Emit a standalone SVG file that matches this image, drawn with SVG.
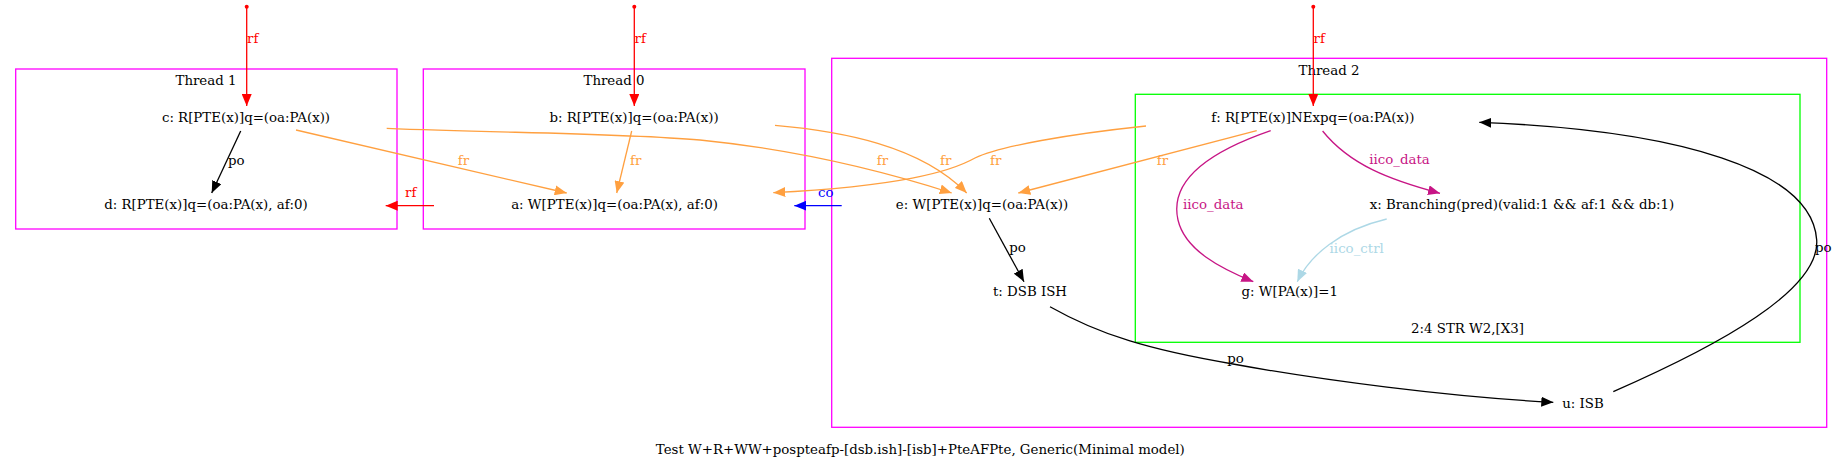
<svg xmlns="http://www.w3.org/2000/svg" width="1843" height="469" viewBox="0 0 1843 469">
<style>
text{font-family:"DejaVu Serif","Liberation Serif",serif;font-size:13.35px;fill:#000}
.n{text-anchor:middle}
.cl{fill:none;stroke:#ff00ff;stroke-width:1.3}
.gr{fill:none;stroke:#00ff00;stroke-width:1.3}
.e{fill:none;stroke-width:1.3}
.rf{stroke:#ff0000}.trf{fill:#ff0000}
.fr{stroke:#ffa040}.tfr{fill:#ffa040}
.po{stroke:#000}
.co{stroke:#0000ff}.tco{fill:#0000ff}
.id{stroke:#c71585}.tid{fill:#c71585}
.ic{stroke:#add8e6}.tic{fill:#add8e6}
</style>
<defs>
<marker id="mrf" markerUnits="userSpaceOnUse" markerWidth="13" markerHeight="10" refX="12" refY="5" orient="auto"><path d="M0,0L12,5L0,10z" fill="#ff0000"/></marker>
<marker id="mfr" markerUnits="userSpaceOnUse" markerWidth="13" markerHeight="10" refX="12" refY="5" orient="auto"><path d="M0,0L12,5L0,10z" fill="#ffa040"/></marker>
<marker id="mpo" markerUnits="userSpaceOnUse" markerWidth="13" markerHeight="10" refX="12" refY="5" orient="auto"><path d="M0,0L12,5L0,10z" fill="#000"/></marker>
<marker id="mco" markerUnits="userSpaceOnUse" markerWidth="13" markerHeight="10" refX="12" refY="5" orient="auto"><path d="M0,0L12,5L0,10z" fill="#0000ff"/></marker>
<marker id="mid" markerUnits="userSpaceOnUse" markerWidth="13" markerHeight="10" refX="12" refY="5" orient="auto"><path d="M0,0L12,5L0,10z" fill="#c71585"/></marker>
<marker id="mic" markerUnits="userSpaceOnUse" markerWidth="13" markerHeight="10" refX="12" refY="5" orient="auto"><path d="M0,0L12,5L0,10z" fill="#add8e6"/></marker>
</defs>
<rect width="1843" height="469" fill="#fff"/>
<g id="clusters">
<rect class="cl" x="15.7" y="69" width="381.3" height="160"/>
<text class="n" x="206" y="85">Thread 1</text>
<rect class="cl" x="423.3" y="69" width="381.7" height="160"/>
<text class="n" x="614" y="85">Thread 0</text>
<rect class="cl" x="831.7" y="58.3" width="995" height="369"/>
<text class="n" x="1329" y="75">Thread 2</text>
<rect class="gr" x="1135.3" y="94.3" width="664.7" height="248"/>
<text class="n" x="1467.5" y="333.3">2:4 STR W2,[X3]</text>
</g>
<g id="node-c"><text class="n" x="246" y="121.7">c: R[PTE(x)]q=(oa:PA(x))</text></g>
<g id="node-d"><text class="n" x="206" y="209">d: R[PTE(x)]q=(oa:PA(x), af:0)</text></g>
<g id="node-b"><text class="n" x="634" y="121.7">b: R[PTE(x)]q=(oa:PA(x))</text></g>
<g id="node-a"><text class="n" x="614.5" y="209">a: W[PTE(x)]q=(oa:PA(x), af:0)</text></g>
<g id="node-e"><text class="n" x="982" y="209">e: W[PTE(x)]q=(oa:PA(x))</text></g>
<g id="node-f"><text class="n" x="1312.9" y="121.7">f: R[PTE(x)]NExpq=(oa:PA(x))</text></g>
<g id="node-x"><text class="n" x="1522" y="209.3">x: Branching(pred)(valid:1 &amp;&amp; af:1 &amp;&amp; db:1)</text></g>
<g id="node-g"><text class="n" x="1289.7" y="296">g: W[PA(x)]=1</text></g>
<g id="node-t"><text class="n" x="1030" y="296">t: DSB ISH</text></g>
<g id="node-u"><text class="n" x="1583" y="407.7">u: ISB</text></g>
<g id="connectors">
<circle cx="246.7" cy="6.7" r="2" class="trf"/>
<path class="e rf" d="M246.7,6.7L246.7,106" marker-end="url(#mrf)"/>
<text class="trf" x="247" y="43">rf</text>
<circle cx="634.3" cy="6.7" r="2" class="trf"/>
<path class="e rf" d="M634.3,6.7L634.3,106" marker-end="url(#mrf)"/>
<text class="trf" x="634.5" y="43">rf</text>
<circle cx="1313.3" cy="6.7" r="2" class="trf"/>
<path class="e rf" d="M1313.3,6.7L1313.3,106" marker-end="url(#mrf)"/>
<text class="trf" x="1313.5" y="43">rf</text>
<path class="e po" d="M240.7,131L211.7,193" marker-end="url(#mpo)"/>
<text x="228" y="165">po</text>
<path class="e rf" d="M434,205.7L385.7,205.7" marker-end="url(#mrf)"/>
<text class="trf" x="405" y="197">rf</text>
<path class="e co" d="M841.7,205.7L794.3,205.7" marker-end="url(#mco)"/>
<text class="tco" x="818" y="197">co</text>
<path class="e fr" d="M631.7,131L616.7,193" marker-end="url(#mfr)"/>
<text class="tfr" x="630" y="165">fr</text>
<path class="e fr" d="M296,130L566.7,193" marker-end="url(#mfr)"/>
<text class="tfr" x="457.7" y="165">fr</text>
<path class="e fr" d="M386.7,128.3C500,133 620,133 700,140C800,150 880,170 951.7,193" marker-end="url(#mfr)"/>
<text class="tfr" x="876.7" y="165">fr</text>
<path class="e fr" d="M775,125.3C840,131 920,145 966.7,193" marker-end="url(#mfr)"/>
<text class="tfr" x="940" y="165">fr</text>
<path class="e fr" d="M1146,126C1070,134 1000,146 975,158C950,172 900,186 773.3,192.7" marker-end="url(#mfr)"/>
<text class="tfr" x="990" y="165">fr</text>
<path class="e fr" d="M1256.7,130.7L1018.3,193" marker-end="url(#mfr)"/>
<text class="tfr" x="1156.7" y="165">fr</text>
<path class="e po" d="M989.3,218.3L1024,281.7" marker-end="url(#mpo)"/>
<text x="1009.3" y="252.3">po</text>
<path class="e id" d="M1270.7,130.7C1200,155 1170,185 1178,220C1185,250 1220,268 1253.3,281.7" marker-end="url(#mid)"/>
<text class="tid" x="1183" y="209">iico_data</text>
<path class="e id" d="M1322.6,131C1350,165 1390,180 1440,193.3" marker-end="url(#mid)"/>
<text class="tid" x="1369.3" y="164.3">iico_data</text>
<path class="e ic" d="M1386.7,219C1340,230 1310,255 1297.3,281.7" marker-end="url(#mic)"/>
<text class="tic" x="1329.6" y="252.5">iico_ctrl</text>
<path class="e po" d="M1050,306.7C1100,335 1150,350 1233,364C1320,380 1450,397 1553.3,402.3" marker-end="url(#mpo)"/>
<text x="1227.3" y="363.3">po</text>
<path class="e po" d="M1613.3,391.7C1720,345 1820,290 1816.7,240C1812,170 1680,130 1479.3,122.3" marker-end="url(#mpo)"/>
<text x="1815" y="251.7">po</text>
</g>
<text class="n" x="920.3" y="454">Test W+R+WW+pospteafp-[dsb.ish]-[isb]+PteAFPte, Generic(Minimal model)</text>
</svg>
